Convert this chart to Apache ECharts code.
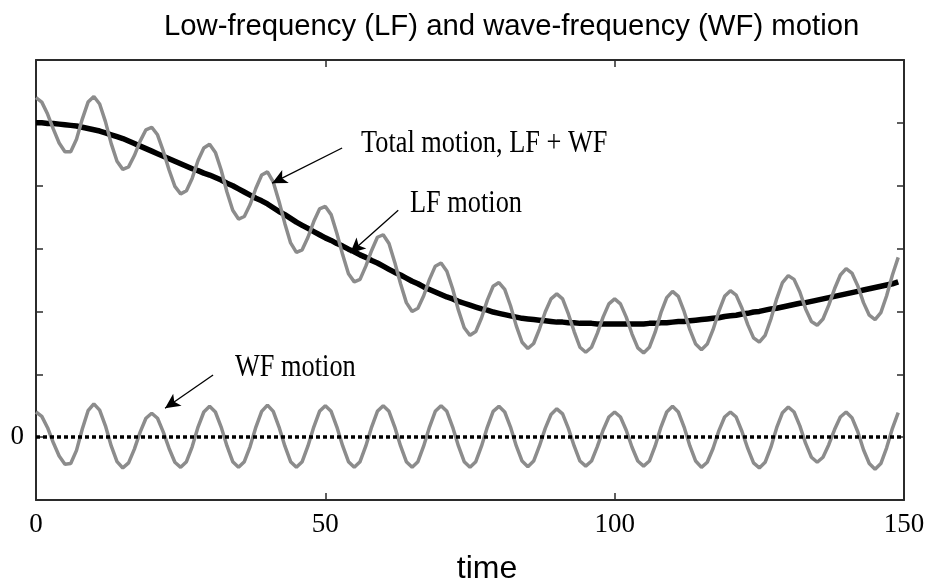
<!DOCTYPE html>
<html>
<head>
<meta charset="utf-8">
<script src="https://cdn.jsdelivr.net/npm/echarts@6/dist/echarts.min.js"></script>
<style>
  html, body { margin: 0; padding: 0; background: #fff; }
  #chart { width: 930px; height: 585px; }
</style>
</head>
<body>
<div id="chart"></div>
<script>
// Low-frequency drift of the vessel, sampled once per time unit (t = 0 .. 149)
const lfMotion = [
  5.00, 5.00, 4.99, 4.99, 4.98, 4.97, 4.96, 4.95, 4.93, 4.91,
  4.89, 4.87, 4.84, 4.81, 4.78, 4.75, 4.71, 4.67, 4.63, 4.59,
  4.55, 4.51, 4.47, 4.43, 4.39, 4.35, 4.31, 4.27, 4.24, 4.20,
  4.17, 4.13, 4.09, 4.04, 4.00, 3.95, 3.90, 3.85, 3.80, 3.76,
  3.71, 3.65, 3.59, 3.54, 3.48, 3.42, 3.37, 3.32, 3.27, 3.22,
  3.17, 3.13, 3.08, 3.04, 2.99, 2.95, 2.90, 2.86, 2.81, 2.77,
  2.72, 2.67, 2.62, 2.58, 2.53, 2.48, 2.44, 2.39, 2.35, 2.31,
  2.27, 2.23, 2.20, 2.16, 2.13, 2.10, 2.07, 2.04, 2.02, 1.99,
  1.97, 1.95, 1.93, 1.91, 1.89, 1.88, 1.87, 1.86, 1.85, 1.84,
  1.83, 1.83, 1.82, 1.82, 1.81, 1.81, 1.81, 1.80, 1.80, 1.80,
  1.80, 1.80, 1.80, 1.80, 1.80, 1.80, 1.81, 1.81, 1.82, 1.82,
  1.83, 1.84, 1.84, 1.85, 1.86, 1.87, 1.88, 1.89, 1.90, 1.92,
  1.93, 1.94, 1.96, 1.97, 1.99, 2.00, 2.02, 2.04, 2.05, 2.07,
  2.09, 2.11, 2.13, 2.14, 2.16, 2.18, 2.20, 2.22, 2.24, 2.26,
  2.28, 2.30, 2.32, 2.34, 2.36, 2.38, 2.40, 2.42, 2.44, 2.47
];

// Wave-frequency oscillation about zero, same sampling
const wfMotion = [
  0.40, 0.33, 0.15, -0.09, -0.30, -0.43, -0.42, -0.21, 0.13, 0.42,
  0.53, 0.43, 0.18, -0.14, -0.39, -0.49, -0.41, -0.19, 0.08, 0.30,
  0.38, 0.30, 0.08, -0.18, -0.40, -0.48, -0.39, -0.15, 0.16, 0.40,
  0.49, 0.40, 0.16, -0.14, -0.39, -0.48, -0.39, -0.15, 0.16, 0.41,
  0.51, 0.41, 0.16, -0.14, -0.39, -0.48, -0.39, -0.14, 0.16, 0.41,
  0.50, 0.41, 0.16, -0.14, -0.39, -0.48, -0.39, -0.14, 0.16, 0.41,
  0.50, 0.41, 0.16, -0.14, -0.39, -0.48, -0.39, -0.14, 0.16, 0.41,
  0.50, 0.41, 0.16, -0.14, -0.39, -0.48, -0.39, -0.14, 0.16, 0.41,
  0.49, 0.40, 0.16, -0.14, -0.38, -0.47, -0.38, -0.14, 0.14, 0.36,
  0.45, 0.37, 0.14, -0.14, -0.38, -0.46, -0.38, -0.15, 0.11, 0.32,
  0.40, 0.32, 0.11, -0.16, -0.38, -0.46, -0.38, -0.14, 0.16, 0.40,
  0.49, 0.40, 0.16, -0.14, -0.38, -0.48, -0.40, -0.18, 0.10, 0.32,
  0.40, 0.32, 0.09, -0.18, -0.41, -0.49, -0.40, -0.16, 0.15, 0.39,
  0.48, 0.40, 0.18, -0.10, -0.32, -0.40, -0.32, -0.12, 0.12, 0.32,
  0.40, 0.31, 0.09, -0.20, -0.42, -0.51, -0.42, -0.17, 0.14, 0.39
];

const xTicks = [0, 50, 100, 150];
const yLabelled = [0];

// Arrow annotations in data units: [tail t, tail value, head t, head value]
const arrowTotal = [52.9, 4.60, 40.8, 4.04];
const arrowLF = [62.6, 3.61, 54.3, 2.93];
const arrowWF = [30.6, 0.99, 22.3, 0.46];

const totalMotion = lfMotion.map((v, i) => +(v + wfMotion[i]).toFixed(3));
const asPoints = arr => arr.map((v, i) => [i, v]);

const GRAY = '#8c8c8c';
const SERIF = '"Liberation Serif", "Times New Roman", serif';
const SANS = '"Liberation Sans", Arial, sans-serif';

function arrow(a) {
  return [
    { coord: [a[0], a[1]], symbol: 'none' },
    { coord: [a[2], a[3]], symbol: 'arrow', symbolSize: [11, 15] }
  ];
}

const arrowLine = { color: '#000', width: 1.3, type: 'solid' };

const axisCommon = {
  axisLine: { show: true, onZero: false, lineStyle: { color: '#2b2b2b', width: 2 } },
  axisTick: { show: true, inside: true, length: 7, lineStyle: { color: '#2b2b2b', width: 1.5 } },
  splitLine: { show: false }
};

const chart = echarts.init(document.getElementById('chart'), null, { renderer: 'canvas' });

chart.setOption({
  animation: false,
  backgroundColor: '#fff',
  title: {
    text: 'Low-frequency (LF) and wave-frequency (WF) motion',
    left: 159,
    top: 7,
    textStyle: { fontFamily: SANS, fontSize: 29.3, fontWeight: 'normal', color: '#000' }
  },
  grid: { left: 36, right: 26, top: 60, bottom: 85, containLabel: false, outerBoundsMode: 'none' },
  xAxis: [
    Object.assign({
      type: 'value', min: 0, max: 150, interval: 50, position: 'bottom',
      name: 'time', nameLocation: 'middle', nameGap: 53,
      nameTextStyle: { fontFamily: SANS, fontSize: 32, color: '#000', padding: [0, 0, 0, 34] },
      axisLabel: {
        margin: 11, fontFamily: SERIF, fontSize: 27, color: '#000',
        formatter: v => (xTicks.includes(v) ? String(v) : '')
      }
    }, axisCommon),
    Object.assign({
      type: 'value', min: 0, max: 150, interval: 50, position: 'top',
      axisLabel: { show: false }
    }, axisCommon)
  ],
  yAxis: [
    Object.assign({
      type: 'value', min: -1, max: 6, interval: 1, position: 'left',
      axisLabel: {
        margin: 12, fontFamily: SERIF, fontSize: 27, color: '#000',
        formatter: v => (yLabelled.includes(v) ? String(v) : '')
      }
    }, axisCommon),
    Object.assign({
      type: 'value', min: -1, max: 6, interval: 1, position: 'right',
      axisLabel: { show: false }
    }, axisCommon)
  ],
  series: [
    {
      name: 'LF motion',
      type: 'line',
      data: asPoints(lfMotion),
      showSymbol: false,
      lineStyle: { color: '#000', width: 5.5 },
      z: 3,
      markLine: {
        silent: true, symbol: ['none', 'none'], label: { show: false },
        lineStyle: arrowLine,
        data: [arrow(arrowLF)]
      }
    },
    {
      name: 'Total motion, LF + WF',
      type: 'line',
      data: asPoints(totalMotion),
      showSymbol: false,
      lineStyle: { color: GRAY, width: 3.5 },
      z: 4,
      markLine: {
        silent: true, symbol: ['none', 'none'], label: { show: false },
        lineStyle: arrowLine,
        data: [arrow(arrowTotal)]
      }
    },
    {
      name: 'WF motion',
      type: 'line',
      data: asPoints(wfMotion),
      showSymbol: false,
      lineStyle: { color: GRAY, width: 3.5 },
      z: 4,
      markLine: {
        silent: true, symbol: ['none', 'none'], label: { show: false },
        data: [
          { yAxis: 0, lineStyle: { color: '#000', width: 3.5, type: [4, 3], cap: 'butt' } },
          arrow(arrowWF).map(p => Object.assign({ lineStyle: arrowLine }, p))
        ]
      }
    }
  ],
  graphic: [
    {
      type: 'text', x: 361, y: 144, scaleX: 0.85,
      style: { text: 'Total motion, LF + WF', font: '31px ' + SERIF, fill: '#000', textVerticalAlign: 'middle' }
    },
    {
      type: 'text', x: 410, y: 204, scaleX: 0.85,
      style: { text: 'LF motion', font: '31px ' + SERIF, fill: '#000', textVerticalAlign: 'middle' }
    },
    {
      type: 'text', x: 235, y: 368, scaleX: 0.85,
      style: { text: 'WF motion', font: '31px ' + SERIF, fill: '#000', textVerticalAlign: 'middle' }
    }
  ]
});
</script>
</body>
</html>
